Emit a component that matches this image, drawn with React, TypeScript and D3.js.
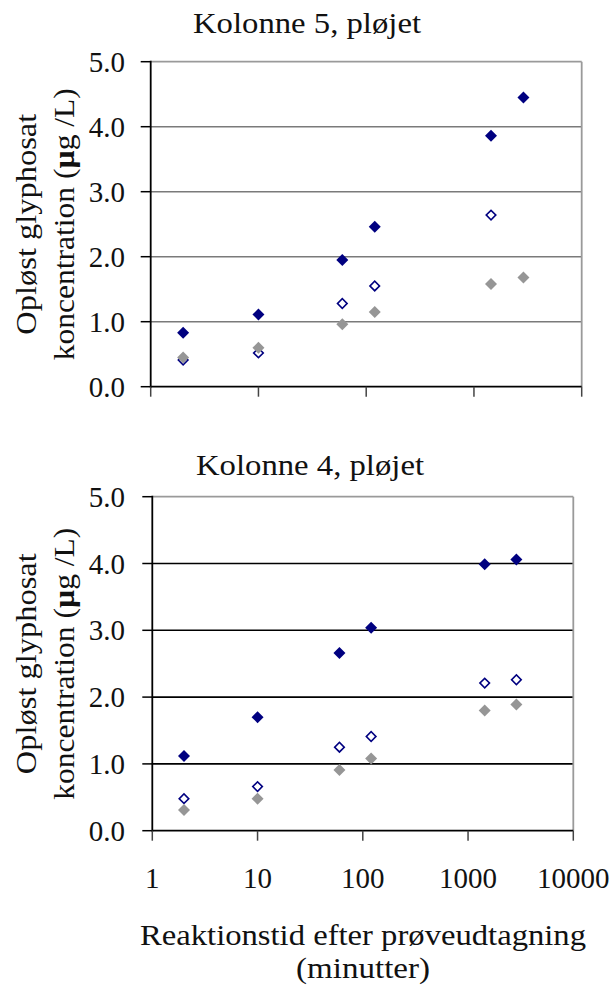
import React from "react";
import * as d3 from "d3";

const times = [2, 10, 60, 120, 1440, 2880];
const xTicks = [1, 10, 100, 1000, 10000];
const yTicks = [0, 1, 2, 3, 4, 5];

const k5Dark = [0.83, 1.11, 1.95, 2.46, 3.86, 4.45];
const k5Open: (number | null)[] = [0.41, 0.52, 1.28, 1.55, 2.64, null];
const k5Grey = [0.45, 0.6, 0.96, 1.15, 1.58, 1.68];

const k4Dark = [1.12, 1.7, 2.66, 3.04, 3.99, 4.06];
const k4Open: (number | null)[] = [0.48, 0.66, 1.25, 1.41, 2.21, 2.26];
const k4Grey = [0.31, 0.48, 0.91, 1.08, 1.8, 1.89];

const FONT = "Liberation Serif, Times New Roman, Times, serif";

type PanelProps = {
  title: string;
  titleX: number;
  titleY: number;
  x0: number;
  x1: number;
  y0: number;
  y1: number;
  grid: string;
  dark: number[];
  open: (number | null)[];
  grey: number[];
  showXLabels: boolean;
};

const diamond = d3.symbol().type(d3.symbolSquare).size(72)();
const diamondOpen = d3.symbol().type(d3.symbolSquare).size(46)();

function Panel(p: PanelProps) {
  const x = d3.scaleLog().domain([1, 10000]).range([p.x0, p.x1]);
  const y = d3.scaleLinear().domain([0, 5]).range([p.y0, p.y1]);
  const cy = (p.y0 + p.y1) / 2;
  const mk = (vals: (number | null)[]) =>
    times
      .map((t, i) => ({ t, v: vals[i] }))
      .filter((d) => d.v !== null && d.v !== undefined) as { t: number; v: number }[];
  return (
    <g>
      <text x={p.titleX} y={p.titleY} textAnchor="middle" fontSize={30} fontFamily={FONT} fill="#111" textLength={228} lengthAdjust="spacingAndGlyphs">
        {p.title}
      </text>
      {yTicks.filter((t) => t > 0 && t < 5).map((t) => (
        <line key={t} x1={p.x0} x2={p.x1} y1={y(t)} y2={y(t)} stroke={p.grid} strokeWidth={1.6} />
      ))}
      <line x1={p.x0} x2={p.x1} y1={y(5)} y2={y(5)} stroke="#9a9a9a" strokeWidth={1.8} />
      <line x1={p.x1} x2={p.x1} y1={y(5)} y2={y(0)} stroke="#9a9a9a" strokeWidth={1.8} />
      <line x1={p.x0} x2={p.x0} y1={y(5) - 1} y2={y(0) + 1} stroke="#000" strokeWidth={1.8} />
      <line x1={p.x0} x2={p.x1} y1={y(0)} y2={y(0)} stroke="#000" strokeWidth={1.8} />
      {yTicks.map((t) => (
        <g key={t}>
          <line x1={p.x0 - 10} x2={p.x0} y1={y(t)} y2={y(t)} stroke="#000" strokeWidth={1.5} />
          <text x={125} y={y(t) + 10} textAnchor="end" fontSize={29} fontFamily={FONT} fill="#111">
            {t.toFixed(1)}
          </text>
        </g>
      ))}
      {xTicks.map((t) => (
        <line key={t} x1={x(t)} x2={x(t)} y1={y(0)} y2={y(0) + 10} stroke="#444" strokeWidth={1.5} />
      ))}
      {p.showXLabels &&
        xTicks.map((t) => (
          <text key={t} x={x(t)} y={888} textAnchor="middle" fontSize={29} fontFamily={FONT} fill="#111">
            {String(t)}
          </text>
        ))}
      <g transform={`translate(36,${cy}) rotate(-90)`}>
        <text x={0} y={0} textAnchor="middle" fontSize={30} fontFamily={FONT} fill="#111" textLength={221} lengthAdjust="spacingAndGlyphs">
          Opløst glyphosat
        </text>
      </g>
      <g transform={`translate(74,${cy}) rotate(-90)`}>
        <text x={0} y={0} textAnchor="middle" fontSize={30} fontFamily={FONT} fill="#111" textLength={272} lengthAdjust="spacingAndGlyphs">
          koncentration (<tspan fontWeight="bold">µ</tspan>g /L)
        </text>
      </g>
      {mk(p.dark).map((d, i) => (
        <path key={"d" + i} d={diamond} transform={`translate(${x(d.t)},${y(d.v)}) rotate(45)`} fill="#000080" />
      ))}
      {mk(p.open).map((d, i) => (
        <path key={"o" + i} d={diamondOpen} transform={`translate(${x(d.t)},${y(d.v)}) rotate(45)`} fill="#fff" stroke="#000080" strokeWidth={1.6} />
      ))}
      {mk(p.grey).map((d, i) => (
        <path key={"g" + i} d={diamond} transform={`translate(${x(d.t)},${y(d.v)}) rotate(45)`} fill="#969696" />
      ))}
    </g>
  );
}

export default function App() {
  return (
    <div style={{ position: "absolute", left: 0, top: 0 }}>
      <svg width={614} height={990} style={{ display: "block", background: "#fff" }}>
        <rect width={614} height={990} fill="#fff" />
        <Panel
          title="Kolonne 5, pløjet"
          titleX={307}
          titleY={33}
          x0={150.7}
          x1={581.7}
          y0={386.7}
          y1={61.7}
          grid="#7a7a7a"
          dark={k5Dark}
          open={k5Open}
          grey={k5Grey}
          showXLabels={false}
        />
        <Panel
          title="Kolonne 4, pløjet"
          titleX={310}
          titleY={475}
          x0={152.3}
          x1={573.3}
          y0={830.7}
          y1={496.7}
          grid="#000"
          dark={k4Dark}
          open={k4Open}
          grey={k4Grey}
          showXLabels={true}
        />
        <text x={363} y={945} textAnchor="middle" fontSize={29} fontFamily={FONT} fill="#111" textLength={446} lengthAdjust="spacingAndGlyphs">
          Reaktionstid efter prøveudtagning
        </text>
        <text x={363} y={978} textAnchor="middle" fontSize={29} fontFamily={FONT} fill="#111" textLength={134} lengthAdjust="spacingAndGlyphs">
          (minutter)
        </text>
      </svg>
    </div>
  );
}
